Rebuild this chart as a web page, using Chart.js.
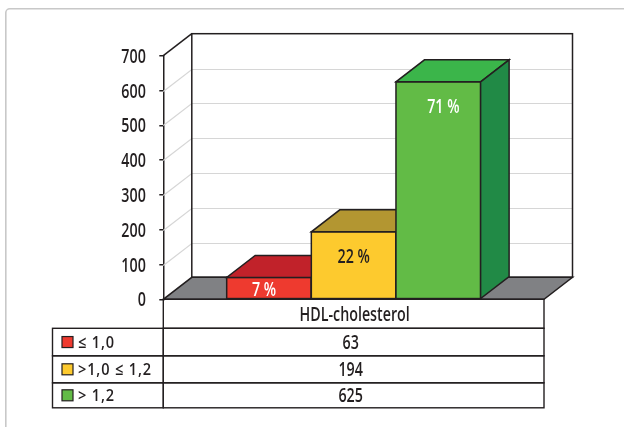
<!DOCTYPE html>
<html><head><meta charset="utf-8">
<script src="https://cdn.jsdelivr.net/npm/chart.js@4.4.1/dist/chart.umd.min.js"></script>
<style>html,body{margin:0;padding:0;background:#fff;}canvas{display:block}</style>
</head><body>
<canvas id="c" width="624" height="427"></canvas>
<script>
// ---- data ----
const categories = ['HDL-cholesterol'];
const seriesNames = ['≤ 1,0', '>1,0 ≤ 1,2', '> 1,2'];
const seriesLow = [63];
const seriesMid = [194];
const seriesHigh = [625];
const yTicks = [0, 100, 200, 300, 400, 500, 600, 700];

// ---- style ----
const FONT = "'Open Sans', 'Noto Sans', sans-serif";
const WEIGHT = 600;
const EDGE = '#231f20';
const GRID = '#d6d6d6';
const FLOOR = '#808184';
const FRONT = ['#ee3a2f', '#fdca2e', '#62bb46'];
const TOP = ['#c1222a', '#b39631', '#3bb54a'];
const SIDE = ['#9c1c22', '#8f7626', '#218a46'];
const LABEL_COLOR = ['#ffffff', EDGE, '#ffffff'];
const DX = 28.5, DY = 22;
const ROW_H = [29, 27.5, 27, 25];

const series = [seriesLow, seriesMid, seriesHigh];
const total = series.reduce((s, a) => s + a[0], 0);

function drawText(ctx, text, x, y, opt) {
  const o = Object.assign({size: 19, sx: 0.75, align: 'center', color: EDGE, spacing: 0}, opt || {});
  ctx.save();
  ctx.translate(x, y);
  ctx.scale(o.sx, 1);
  ctx.font = WEIGHT + ' ' + o.size + 'px ' + FONT;
  if ('letterSpacing' in ctx) ctx.letterSpacing = o.spacing + 'px';
  ctx.textAlign = o.align;
  ctx.textBaseline = 'alphabetic';
  ctx.fillStyle = o.color;
  ctx.fillText(text, 0, 0);
  ctx.restore();
}

const threeD = {
  id: 'threeD',
  beforeDraw(chart) {
    const {ctx, width, height} = chart;
    ctx.save();
    ctx.fillStyle = '#fff';
    ctx.fillRect(0, 0, width, height);
    ctx.strokeStyle = '#c8c8c8';
    ctx.lineWidth = 1.6;
    ctx.beginPath();
    ctx.roundRect(5.8, 8.8, width + 20, height + 20, 4);
    ctx.stroke();
    ctx.restore();
  },
  beforeDatasetsDraw(chart) {
    const {ctx, chartArea: a, scales: {y}} = chart;
    ctx.save();
    ctx.strokeStyle = GRID;
    ctx.lineWidth = 1.2;
    yTicks.forEach(v => {
      if (v === yTicks[0] || v === yTicks[yTicks.length - 1]) return;
      const py = Math.round(y.getPixelForValue(v)) + 0.5;
      ctx.beginPath();
      ctx.moveTo(a.left, py);
      ctx.lineTo(a.left + DX, py - DY);
      ctx.lineTo(a.right + DX, py - DY);
      ctx.stroke();
    });
    ctx.strokeStyle = EDGE;
    ctx.lineWidth = 1.5;
    ctx.strokeRect(a.left + DX, a.top - DY, a.right - a.left, a.bottom - a.top);
    ctx.fillStyle = FLOOR;
    ctx.beginPath();
    ctx.moveTo(a.left, a.bottom);
    ctx.lineTo(a.right, a.bottom);
    ctx.lineTo(a.right + DX, a.bottom - DY);
    ctx.lineTo(a.left + DX, a.bottom - DY);
    ctx.closePath();
    ctx.fill();
    ctx.stroke();
    ctx.beginPath();
    ctx.moveTo(a.left, a.top);
    ctx.lineTo(a.left + DX, a.top - DY);
    ctx.stroke();
    ctx.restore();
  },
  afterDatasetsDraw(chart) {
    const {ctx} = chart;
    ctx.save();
    ctx.strokeStyle = EDGE;
    ctx.lineWidth = 1.5;
    const bars = [];
    series.forEach((s, i) => {
      const el = chart.getDatasetMeta(i).data[0];
      const p = el.getProps(['x', 'y', 'base', 'width'], true);
      const x0 = p.x - p.width / 2, x1 = p.x + p.width / 2, t = p.y, b = p.base;
      bars.push({x0, x1, t, b, cx: p.x});
      ctx.fillStyle = FRONT[i];
      ctx.fillRect(x0, t, x1 - x0, b - t);
      ctx.strokeRect(x0, t, x1 - x0, b - t);
      ctx.fillStyle = TOP[i];
      ctx.beginPath();
      ctx.moveTo(x0, t); ctx.lineTo(x1, t); ctx.lineTo(x1 + DX, t - DY); ctx.lineTo(x0 + DX, t - DY);
      ctx.closePath(); ctx.fill(); ctx.stroke();
      ctx.fillStyle = SIDE[i];
      ctx.beginPath();
      ctx.moveTo(x1, t); ctx.lineTo(x1 + DX, t - DY); ctx.lineTo(x1 + DX, b - DY); ctx.lineTo(x1, b);
      ctx.closePath(); ctx.fill(); ctx.stroke();
    });
    bars.forEach((bar, i) => {
      const pct = Math.round(series[i][0] / total * 100) + ' %';
      const base = Math.min(bar.t + 31, bar.b - 2.5);
      drawText(ctx, pct, bar.cx + (i - 1) * 5, base, {color: LABEL_COLOR[i]});
    });
    ctx.restore();
  },
  afterDraw(chart) {
    const {ctx, chartArea: a, scales: {y}} = chart;
    yTicks.forEach(v => {
      drawText(ctx, String(v), a.left - 17.5, y.getPixelForValue(v) + 7, {align: 'right'});
    });
    const L = 52.5, C = a.left, R = a.right;
    ctx.save();
    ctx.strokeStyle = EDGE;
    ctx.lineWidth = 1.4;
    let yy = a.bottom;
    ctx.strokeRect(C, yy, R - C, ROW_H[0]);
    drawText(ctx, categories[0], (C + R) / 2 + 1, yy + 21.5);
    yy += ROW_H[0];
    series.forEach((s, i) => {
      const h = ROW_H[i + 1];
      ctx.strokeRect(L, yy, C - L, h);
      ctx.strokeRect(C, yy, R - C, h);
      ctx.fillStyle = FRONT[i];
      ctx.fillRect(62, yy + h / 2 - 5.5, 11, 11);
      ctx.lineWidth = 1.2;
      ctx.strokeRect(62, yy + h / 2 - 5.5, 11, 11);
      ctx.lineWidth = 1.4;
      drawText(ctx, seriesNames[i], 78, yy + h / 2 + 6, {size: 16.5, sx: 0.88, align: 'left', spacing: 1});
      drawText(ctx, String(s[0]), (C + R) / 2 - 3, yy + h / 2 + 7);
      yy += h;
    });
    ctx.restore();
  }
};

new Chart(document.getElementById('c'), {
  type: 'bar',
  data: {
    labels: categories,
    datasets: series.map((s, i) => ({
      label: seriesNames[i],
      data: s,
      backgroundColor: FRONT[i],
      borderColor: EDGE,
      borderWidth: 1.5,
      categoryPercentage: 0.667,
      barPercentage: 1
    }))
  },
  options: {
    responsive: false,
    animation: false,
    devicePixelRatio: 1,
    layout: {padding: {top: 55.7, right: 80, bottom: 127.7, left: 0}},
    plugins: {legend: {display: false}, tooltip: {enabled: false}},
    scales: {
      x: {display: false, offset: true},
      y: {
        min: yTicks[0], max: yTicks[yTicks.length - 1],
        afterBuildTicks: s => { s.ticks = yTicks.map(v => ({value: v})); },
        afterFit: s => { s.width = 163.3; },
        ticks: {display: false},
        grid: {drawOnChartArea: false, drawTicks: true, tickLength: 4, color: EDGE, lineWidth: 1.5},
        border: {color: EDGE, width: 1.5}
      }
    }
  },
  plugins: [threeD]
});
</script>
</body></html>
